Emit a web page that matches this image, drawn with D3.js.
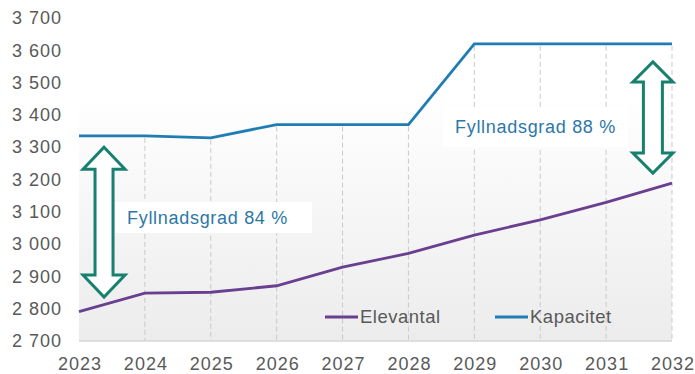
<!DOCTYPE html>
<html><head><meta charset="utf-8">
<script src="https://cdn.jsdelivr.net/npm/d3@7"></script>
<style>body{margin:0;background:#fff;}svg{display:block;font-family:"Liberation Sans",Arial,sans-serif;}</style>
</head><body><svg id="c" width="695" height="374"></svg>
<script>
const years = [2023,2024,2025,2026,2027,2028,2029,2030,2031,2032];
const elevantal = [2791,2848,2851,2871,2929,2971,3028,3075,3129,3189];
const kapacitet = [3335,3335,3329,3370,3370,3370,3620,3620,3620,3620];
const yTicks = [2700,2800,2900,3000,3100,3200,3300,3400,3500,3600,3700];
const seriesNames = ["Elevantal","Kapacitet"];
const annotations = [
  {text:"Fyllnadsgrad 84 %", year:2023.38, from:2836, to:3300},
  {text:"Fyllnadsgrad 88 %", year:2031.71, from:3220, to:3564}
];

const svg = d3.select("#c");
const x = d3.scaleLinear().domain([2023,2032]).range([79,672]);
const y = d3.scaleLinear().domain([2700,3700]).range([341,18]);
const colE = "#6b3f8f", colK = "#1f7db3", arrowCol = "#17806f", textGrey = "#595959";

const defs = svg.append("defs");
const g = defs.append("linearGradient").attr("id","bg").attr("x1",0).attr("y1",0).attr("x2",0).attr("y2",1);
g.append("stop").attr("offset","0%").attr("stop-color","#ffffff");
g.append("stop").attr("offset","100%").attr("stop-color","#ececec");
svg.append("rect").attr("x",x(2023)).attr("y",93).attr("width",x(2032)-x(2023))
  .attr("height",y(2700)-93).attr("fill","url(#bg)");

// gridlines (below the capacity line)
svg.append("g").selectAll("line").data(years.slice(1)).join("line")
  .attr("x1",d=>x(d)).attr("x2",d=>x(d))
  .attr("y1",(d)=>y(kapacitet[years.indexOf(d)])+2).attr("y2",y(2700))
  .attr("stroke","#c9c9c9").attr("stroke-width",1).attr("stroke-dasharray","5,3");

// x axis line
svg.append("line").attr("x1",x(2023)).attr("x2",x(2032)).attr("y1",y(2700)).attr("y2",y(2700))
  .attr("stroke","#d6d6d6").attr("stroke-width",1.5);

// axes
const fmt = d => d3.format(",")(d).replace(",", " ");
const yAxis = svg.append("g").attr("transform","translate(69,0)")
  .call(d3.axisLeft(y).tickValues(yTicks).tickFormat(fmt).tickSize(0).tickPadding(7));
yAxis.select(".domain").remove();
yAxis.selectAll("text").attr("fill",textGrey).style("font-size","18px").style("letter-spacing","1px").style("font-family","Liberation Sans, Arial, sans-serif");

const xAxis = svg.append("g").attr("transform",`translate(0,${y(2700)})`)
  .call(d3.axisBottom(x).tickValues(years).tickFormat(d3.format("d")).tickSize(0).tickPadding(16));
xAxis.select(".domain").remove();
xAxis.selectAll("text").attr("fill",textGrey).attr("dx","0.5px").style("font-size","18px").style("letter-spacing","1px").style("font-family","Liberation Sans, Arial, sans-serif");

// lines
const line = d3.line().x((d,i)=>x(years[i])).y(d=>y(d));
svg.append("path").datum(kapacitet).attr("d",line).attr("fill","none").attr("stroke",colK).attr("stroke-width",2.8);
svg.append("path").datum(elevantal).attr("d",line).attr("fill","none").attr("stroke",colE).attr("stroke-width",2.8);

// legend
const leg = [{n:seriesNames[0],c:colE,x:325},{n:seriesNames[1],c:colK,x:495}];
leg.forEach(l=>{
  svg.append("line").attr("x1",l.x).attr("x2",l.x+33).attr("y1",317).attr("y2",317).attr("stroke",l.c).attr("stroke-width",3);
  svg.append("text").attr("x",l.x+35).attr("y",323).attr("fill",textGrey).style("font-size","18.5px").style("letter-spacing","0.5px").text(l.n);
});

// double arrows
function dblArrow(cx, yTop, yBot, hw, sw, hh){
  const pts = [[cx,yTop],[cx+hw,yTop+hh],[cx+sw,yTop+hh],[cx+sw,yBot-hh],[cx+hw,yBot-hh],[cx,yBot],
               [cx-hw,yBot-hh],[cx-sw,yBot-hh],[cx-sw,yTop+hh],[cx-hw,yTop+hh]];
  svg.append("polygon").attr("points",pts.map(p=>p.join(",")).join(" "))
    .attr("fill","#ffffff").attr("stroke",arrowCol).attr("stroke-width",3).attr("stroke-linejoin","miter");
}
dblArrow(x(annotations[0].year), y(annotations[0].to), y(annotations[0].from), 21, 9, 22);
dblArrow(x(annotations[1].year), y(annotations[1].to), y(annotations[1].from), 20, 9.5, 20);

// labels
function label(txt, bx, by, bw, bh, tx, ty){
  svg.append("rect").attr("x",bx).attr("y",by).attr("width",bw).attr("height",bh).attr("fill","#ffffff");
  svg.append("text").attr("x",tx).attr("y",ty).attr("fill","#2b78a8").style("font-size","18px").style("letter-spacing","0.7px").text(txt);
}
label(annotations[0].text, 115, 202, 197, 31, 127, 224);
label(annotations[1].text, 443, 108, 185, 39, 455, 133);
</script></body></html>
